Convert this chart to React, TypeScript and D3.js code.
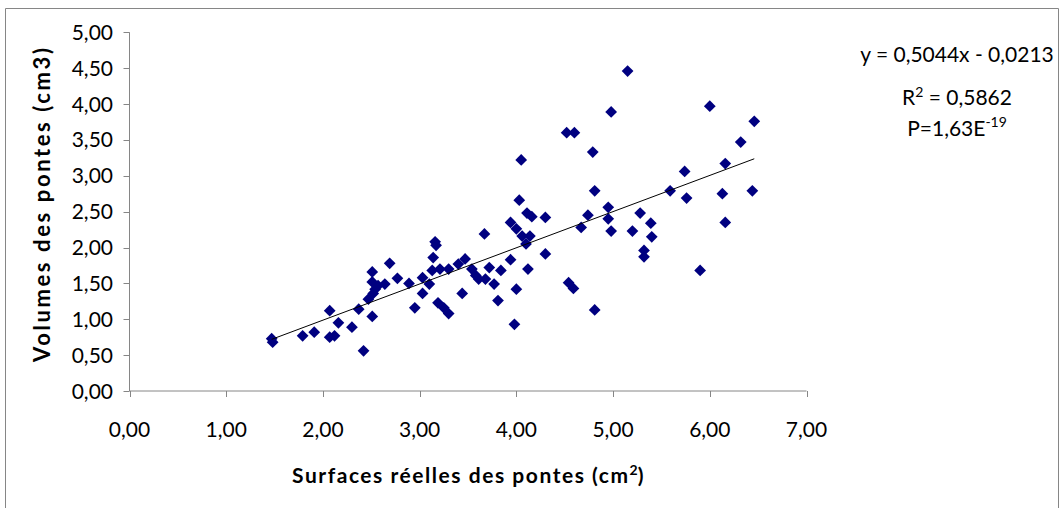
import React from "react";
import * as d3 from "d3";

// Surface (cm²) and volume (cm3) of each clutch, paired by index
const surfaces = [
  1.47, 1.48, 1.79, 1.91, 2.07, 2.07, 2.12, 2.16, 2.30, 2.37,
  2.42, 2.47, 2.52, 2.51, 2.51, 2.51, 2.54, 2.57, 2.64, 2.69,
  2.77, 2.89, 2.95, 3.03, 3.03, 3.10, 3.14, 3.16, 3.17, 3.13,
  3.21, 3.30, 3.19, 3.25, 3.30, 3.40, 3.47, 3.44, 3.54, 3.58,
  3.61, 3.68, 3.67, 3.72, 3.77, 3.84, 3.81, 3.94, 3.94, 4.00,
  4.00, 3.98, 4.03, 4.05, 4.06, 4.14, 4.10, 4.11, 4.16, 4.30,
  4.30, 4.12, 4.52, 4.60, 4.98, 4.79, 4.81, 4.54, 4.59, 4.81,
  4.67, 4.74, 4.95, 4.95, 4.98, 5.15, 6.00, 6.46, 6.32, 6.16,
  5.74, 5.59, 5.76, 6.13, 6.44, 5.28, 5.20, 5.39, 5.40, 6.16,
  5.32, 5.32, 5.90,
];
const volumes = [
  0.73, 0.68, 0.77, 0.82, 1.12, 0.75, 0.77, 0.95, 0.89, 1.14,
  0.56, 1.28, 1.36, 1.04, 1.66, 1.52, 1.42, 1.47, 1.49, 1.78,
  1.57, 1.50, 1.16, 1.36, 1.58, 1.49, 1.86, 2.08, 2.03, 1.68,
  1.70, 1.70, 1.23, 1.16, 1.08, 1.77, 1.84, 1.36, 1.70, 1.61,
  1.56, 1.56, 2.19, 1.72, 1.49, 1.68, 1.26, 1.83, 2.35, 2.26,
  1.42, 0.93, 2.66, 3.22, 2.16, 2.16, 2.05, 2.48, 2.43, 2.42,
  1.91, 1.70, 3.60, 3.60, 3.89, 3.33, 2.79, 1.51, 1.43, 1.13,
  2.28, 2.45, 2.56, 2.40, 2.23, 4.46, 3.97, 3.76, 3.47, 3.17,
  3.06, 2.79, 2.69, 2.75, 2.79, 2.48, 2.23, 2.34, 2.15, 2.35,
  1.96, 1.87, 1.68,
];

// Linear fit reported on the chart
const slope = 0.5044;
const intercept = -0.0213;

const xTicks = [0, 1, 2, 3, 4, 5, 6, 7];
const yTicks = [0, 0.5, 1, 1.5, 2, 2.5, 3, 3.5, 4, 4.5, 5];

const fmt = (v: number) => v.toFixed(2).replace(".", ",");

const FONT = "Lato, 'Open Sans', sans-serif";
const AXIS = "#868686";
const MARK = "#000080";

export default function App() {
  const width = 1063;
  const height = 508;

  const x = d3.scaleLinear().domain([0, 7]).range([129.5, 806.5]);
  const y = d3.scaleLinear().domain([0, 5]).range([391, 32.3]);

  const points = surfaces.map((s, i) => ({ s, v: volumes[i] }));
  const [xMin, xMax] = d3.extent(surfaces) as [number, number];
  const fitLine = d3.line<number>()
    .x((d) => x(d))
    .y((d) => y(slope * d + intercept));

  const diamond = d3.symbol().type(d3.symbolDiamond2).size(88)() as string;

  return (
    <svg
      width={width}
      height={height}
      style={{ position: "absolute", left: 0, top: 0, background: "#fff" }}
      fontFamily={FONT}
    >
      <rect x={0} y={0} width={width} height={height} fill="#fff" />
      {/* chart frame */}
      <path d="M5.5,508 V8.5 H1058.5 V508" fill="none" stroke={AXIS} strokeWidth={1} />

      {/* y axis */}
      <line x1={x(0)} x2={x(0)} y1={y(5)} y2={y(0)} stroke={AXIS} strokeWidth={1} />
      {yTicks.map((t) => (
        <g key={"y" + t}>
          <line x1={x(0) - 6} x2={x(0)} y1={Math.round(y(t)) + 0.5} y2={Math.round(y(t)) + 0.5} stroke={AXIS} />
          <text x={113} y={y(t)} dy="0.36em" textAnchor="end" fontSize={21} fill="#000">
            {fmt(t)}
          </text>
        </g>
      ))}

      {/* x axis */}
      <line x1={x(0)} x2={x(7)} y1={y(0)} y2={y(0)} stroke={AXIS} strokeWidth={1} />
      {xTicks.map((t) => (
        <g key={"x" + t}>
          <line x1={Math.round(x(t)) + 0.5} x2={Math.round(x(t)) + 0.5} y1={y(0)} y2={y(0) + 6} stroke={AXIS} />
          <text x={x(t)} y={436.5} textAnchor="middle" fontSize={21} fill="#000">
            {fmt(t)}
          </text>
        </g>
      ))}

      {/* axis titles */}
      <text
        transform="translate(50,205) rotate(-90)"
        textAnchor="middle"
        fontSize={22}
        fontWeight="bold"
        fill="#000"
        textLength={314}
        lengthAdjust="spacing"
      >
        Volumes des pontes (cm3)
      </text>
      <text
        x={292}
        y={483}
        fontSize={21}
        fontWeight="bold"
        fill="#000"
      >
        <tspan textLength={336} lengthAdjust="spacing">Surfaces réelles des pontes (cm</tspan>
        <tspan dy={-8} fontSize={14}>2</tspan>
        <tspan dy={8}>)</tspan>
      </text>

      {/* points */}
      {points.map((p, i) => (
        <path key={i} d={diamond} transform={`translate(${x(p.s)},${y(p.v)})`} fill={MARK} />
      ))}

      {/* trend line */}
      <path d={fitLine([xMin, xMax]) || ""} fill="none" stroke="#000" strokeWidth={1} />

      {/* regression summary */}
      <g fontSize={21} fill="#000" textAnchor="middle">
        <text x={957} y={62}>y = 0,5044x - 0,0213</text>
        <text x={957} y={105}>
          R<tspan dy={-8} fontSize={14}>2</tspan>
          <tspan dy={8}> = 0,5862</tspan>
        </text>
        <text x={957} y={136}>
          P=1,63E<tspan dy={-9} fontSize={14}>-19</tspan>
        </text>
      </g>
    </svg>
  );
}
